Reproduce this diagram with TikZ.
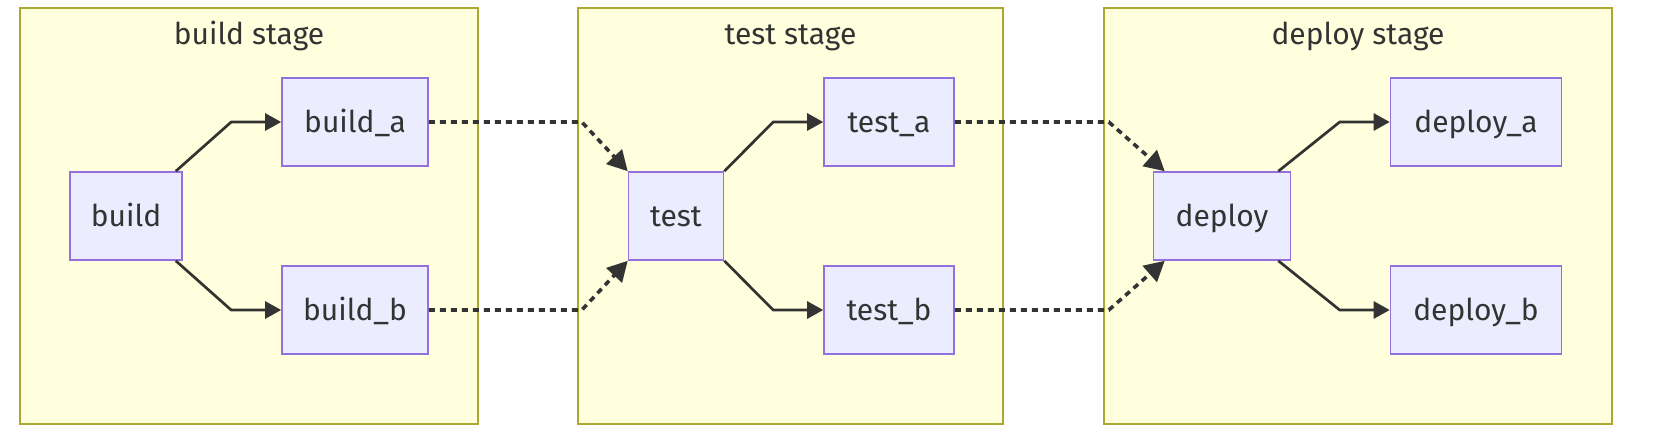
\documentclass[tikz,border=0pt]{standalone}
\usepackage{fontspec}
\setmainfont{Fira Sans}
\usetikzlibrary{positioning, arrows.meta}
\definecolor{stagefill}{HTML}{FFFFDE}
\definecolor{stageline}{HTML}{AAAA33}
\definecolor{jobfill}{HTML}{ECECFF}
\definecolor{jobline}{HTML}{9370DB}
\definecolor{edgegray}{HTML}{333333}

\begin{document}
\begin{tikzpicture}[on grid, font=\fontsize{15}{18}\selectfont, text=edgegray,
    stage/.style={rectangle, draw=stageline, fill=stagefill, line width=1pt, minimum width=#1, minimum height=208pt, inner sep=0pt},
    title/.style={anchor=base, inner sep=0pt},
    job/.style={rectangle, draw=jobline, fill=jobfill, line width=0.8pt, minimum width=#1, minimum height=44pt, inner sep=0pt, text height=11pt, text depth=0.6pt},
    flow/.style={draw=edgegray, line width=1.35pt, -{Triangle[length=8pt, width=8.5pt]}},
    handoff/.style={flow, line width=1.8pt, dash pattern=on 3pt off 2.5pt, -{Triangle[length=10pt, width=10.5pt]}}]
    \useasboundingbox (0pt,0pt) rectangle (829pt,-218pt);

    \node[stage=229pt] (buildstage) at (124.5pt,-108pt) {};
    \node[stage=212.5pt, right=270.75pt of buildstage] (teststage) {};
    \node[stage=254pt, right=283.75pt of teststage] (deploystage) {};
    \node[title] (buildtitle) at ([yshift=-18.8pt]buildstage.north) {build stage};
    \node[title] (testtitle) at ([yshift=-18.8pt]teststage.north) {test stage};
    \node[title] (deploytitle) at ([yshift=-18.8pt]deploystage.north) {deploy stage};

    \node[job=56pt] (build) at (63pt,-108pt) {build};
    \node[job=73pt, above right=47pt and 114.5pt of build] (builda) {build\_a};
    \node[job=73pt, below=94pt of builda] (buildb) {build\_b};
    \node[job=47.5pt, right=275pt of build] (test) {test};
    \node[job=65pt, above right=47pt and 106.5pt of test] (testa) {test\_a};
    \node[job=65pt, below=94pt of testa] (testb) {test\_b};
    \node[job=68.5pt, right=273pt of test] (deploy) {deploy};
    \node[job=85.5pt, above right=47pt and 127pt of deploy] (deploya) {deploy\_a};
    \node[job=85.5pt, below=94pt of deploya] (deployb) {deploy\_b};

    \draw[flow] ([xshift=-3.5pt]build.north east) -- ([xshift=-25pt]builda.west) -- (builda.west);
    \draw[flow] ([xshift=-3.5pt]build.south east) -- ([xshift=-25pt]buildb.west) -- (buildb.west);
    \draw[flow] (test.north east) -- ([xshift=-25pt]testa.west) -- (testa.west);
    \draw[flow] (test.south east) -- ([xshift=-25pt]testb.west) -- (testb.west);
    \draw[flow] ([xshift=-6.5pt]deploy.north east) -- ([xshift=-25pt]deploya.west) -- (deploya.west);
    \draw[flow] ([xshift=-6.5pt]deploy.south east) -- ([xshift=-25pt]deployb.west) -- (deployb.west);

    \draw[handoff] (builda.east) -- ++(76.5pt,0) -- (test.north west);
    \draw[handoff] (buildb.east) -- ++(76.5pt,0) -- (test.south west);
    \draw[handoff] (testa.east) -- ++(77pt,0) -- ([xshift=6pt]deploy.north west);
    \draw[handoff] (testb.east) -- ++(77pt,0) -- ([xshift=6pt]deploy.south west);
\end{tikzpicture}
\end{document}
